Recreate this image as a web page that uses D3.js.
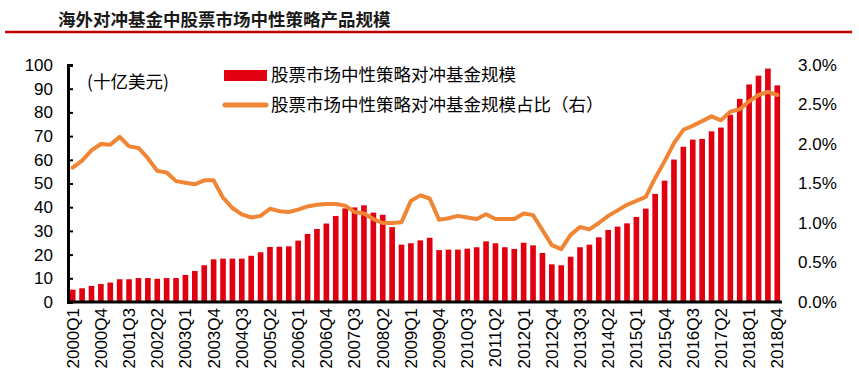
<!DOCTYPE html>
<html>
<head>
<meta charset="utf-8">
<script src="https://cdn.jsdelivr.net/npm/d3@7"></script>
<style>
  body { margin: 0; background: #fff; }
  text { font-family: "Liberation Sans", Arial, "Noto Sans CJK SC", sans-serif; }
  .cjk { font-family: "Noto Sans CJK SC", "Liberation Sans", sans-serif; }
</style>
</head>
<body>
<div id="chart"></div>
<script>
// quarters 2000Q1 .. 2018Q4
var quarters = [];
for (var yr = 2000; yr <= 2018; yr++) {
  for (var q = 1; q <= 4; q++) quarters.push(yr + "Q" + q);
}

// 规模 (十亿美元)
var scale = [
  5.2, 5.8, 6.8, 7.6, 8.2, 9.6, 9.6, 10.1, 10.1, 9.8, 10.1, 10.1, 11.4,
  13.1, 15.5, 18.0, 18.3, 18.3, 18.3, 19.5, 21.0, 23.2, 23.3, 23.5, 25.9, 28.7,
  30.8, 33.1, 36.3, 39.5, 39.9, 40.8, 37.7, 36.8, 31.6, 24.2, 24.8, 26.0, 27.1,
  21.9, 22.1, 22.1, 22.5, 23.1, 25.6, 24.8, 23.1, 22.4, 25.0, 23.9, 20.7,
  15.9, 15.5, 19.1, 23.1, 24.2, 27.3, 30.4, 31.8, 33.2, 35.9, 39.4, 45.6, 51.2,
  60.1, 65.5, 68.5, 68.8, 72.0, 73.6, 79.0, 85.7, 91.8, 95.5, 98.5, 91.4
];

// 占比 (%)
var share = [
  1.70, 1.79, 1.92, 2.00, 1.99, 2.09, 1.97, 1.95, 1.82, 1.66, 1.64, 1.53, 1.51,
  1.49, 1.54, 1.54, 1.32, 1.19, 1.11, 1.07, 1.09, 1.18, 1.15, 1.14, 1.17, 1.21,
  1.23, 1.24, 1.24, 1.22, 1.14, 1.12, 1.05, 1.00, 1.00, 1.01, 1.28, 1.35, 1.31,
  1.04, 1.06, 1.09, 1.07, 1.05, 1.11, 1.05, 1.05, 1.05, 1.12, 1.10, 0.91,
  0.72, 0.67, 0.85, 0.95, 0.92, 1.00, 1.09, 1.16, 1.23, 1.28, 1.33, 1.57, 1.78,
  2.01, 2.18, 2.23, 2.29, 2.35, 2.30, 2.41, 2.44, 2.54, 2.62, 2.66, 2.62
];

var leftTicks = [0, 10, 20, 30, 40, 50, 60, 70, 80, 90, 100];
var rightTicks = [0, 0.5, 1.0, 1.5, 2.0, 2.5, 3.0];

var title = "海外对冲基金中股票市场中性策略产品规模";
var unitLabel = "(十亿美元)";
var legendNames = ["股票市场中性策略对冲基金规模", "股票市场中性策略对冲基金规模占比（右）"];

(function () {
  var W = 859, H = 386;
  var pLeft = 68, pRight = 782, pTop = 65, pBottom = 302;

  var svg = d3.select("#chart").append("svg")
    .attr("width", W).attr("height", H);

  // title + red rule
  svg.append("text").attr("class", "cjk")
    .attr("x", 58).attr("y", 26)
    .attr("font-size", 17.5).attr("font-weight", 700).attr("fill", "#1a1a1a")
    .text(title);
  svg.append("line")
    .attr("x1", 5).attr("x2", 852).attr("y1", 32).attr("y2", 32)
    .attr("stroke", "#c00000").attr("stroke-width", 2.5);

  var x = d3.scaleBand().domain(quarters).range([pLeft, pRight])
    .paddingInner(0.4).paddingOuter(0.2);
  var y = d3.scaleLinear().domain([0, 100]).range([pBottom, pTop]);
  var y2 = d3.scaleLinear().domain([0, 3]).range([pBottom, pTop]);

  // bars
  svg.append("g").selectAll("rect")
    .data(scale)
    .join("rect")
    .attr("x", function (d, i) { return x(quarters[i]); })
    .attr("width", x.bandwidth())
    .attr("y", function (d) { return y(d); })
    .attr("height", function (d) { return y(0) - y(d); })
    .attr("fill", "#e0000f");

  // line
  var line = d3.line()
    .x(function (d, i) { return x(quarters[i]) + x.bandwidth() / 2; })
    .y(function (d) { return y2(d); });
  svg.append("path")
    .datum(share)
    .attr("d", line)
    .attr("fill", "none")
    .attr("stroke", "#ef8535")
    .attr("stroke-width", 4)
    .attr("stroke-linejoin", "round")
    .attr("stroke-linecap", "round");

  // left axis
  var gl = svg.append("g").attr("transform", "translate(" + pLeft + ",0)")
    .call(d3.axisRight(y).tickValues(leftTicks).tickSize(5).tickFormat(d3.format("d")));
  gl.select(".domain").attr("stroke", "#000").attr("stroke-width", 3);
  gl.selectAll(".tick line").attr("stroke", "#000").attr("stroke-width", 2);
  gl.selectAll(".tick text")
    .attr("x", -15).attr("text-anchor", "end")
    .attr("font-size", 17).attr("fill", "#000");

  // right axis (labels only)
  var gr = svg.append("g").attr("transform", "translate(798,0)")
    .call(d3.axisRight(y2).tickValues(rightTicks).tickSize(0)
      .tickFormat(function (d) { return d.toFixed(1) + "%"; }));
  gr.select(".domain").remove();
  gr.selectAll(".tick text").attr("x", 0).attr("font-size", 17).attr("fill", "#000");

  // bottom axis
  var gb = svg.append("g").attr("transform", "translate(0," + pBottom + ")")
    .call(d3.axisBottom(x)
      .tickValues(quarters.filter(function (d, i) { return i % 3 === 0; }))
      .tickSize(0));
  gb.select(".domain").attr("stroke", "#000").attr("stroke-width", 3)
    .attr("d", "M" + pLeft + ",0H" + pRight);
  gb.selectAll(".tick text")
    .attr("transform", "rotate(-90)")
    .attr("text-anchor", "end")
    .attr("x", -6).attr("y", 0).attr("dy", "0.35em")
    .attr("font-size", 17).attr("fill", "#000");

  // unit label
  svg.append("text").attr("class", "cjk")
    .attr("x", 87).attr("y", 88)
    .attr("font-size", 17.5).attr("fill", "#000")
    .text(unitLabel);

  // legend
  svg.append("rect").attr("x", 224).attr("y", 70).attr("width", 43).attr("height", 11)
    .attr("fill", "#e0000f");
  svg.append("text").attr("class", "cjk")
    .attr("x", 271).attr("y", 81)
    .attr("font-size", 17.5).attr("fill", "#000")
    .text(legendNames[0]);
  svg.append("line").attr("x1", 225).attr("x2", 266).attr("y1", 105).attr("y2", 105)
    .attr("stroke", "#ef8535").attr("stroke-width", 5).attr("stroke-linecap", "round");
  svg.append("text").attr("class", "cjk")
    .attr("x", 271).attr("y", 111)
    .attr("font-size", 17.5).attr("fill", "#000")
    .text(legendNames[1]);
})();
</script>
</body>
</html>
